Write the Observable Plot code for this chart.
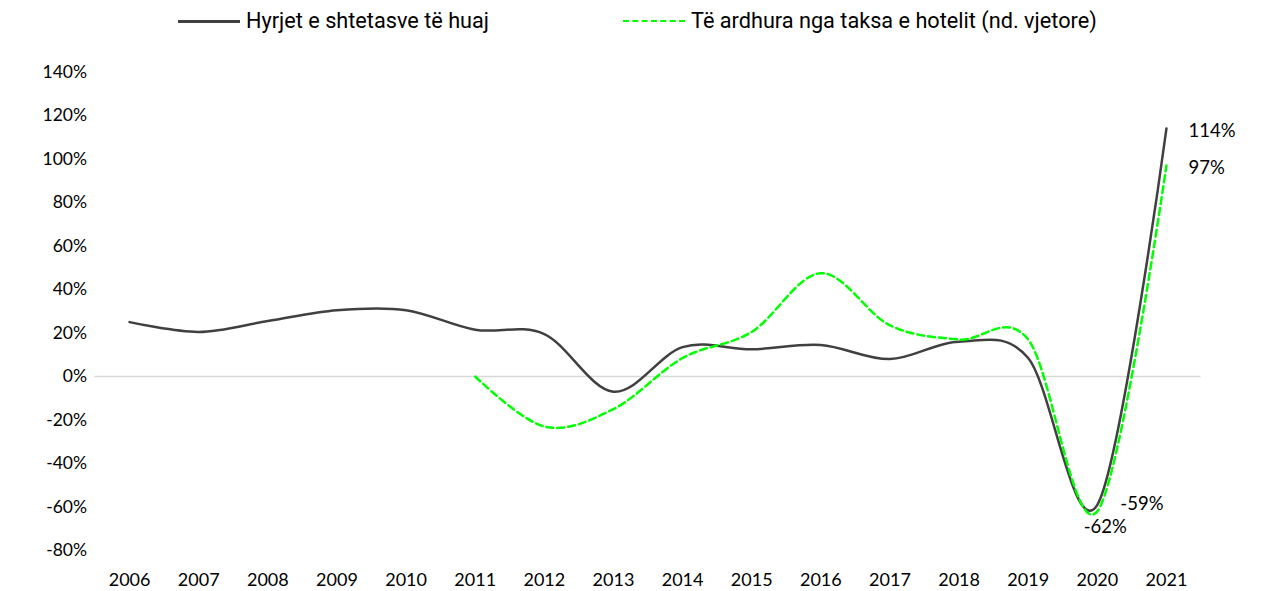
<!DOCTYPE html>
<html><head><meta charset="utf-8">
<script src="https://cdn.jsdelivr.net/npm/d3@7"></script>
<script src="https://cdn.jsdelivr.net/npm/@observablehq/plot@0.6"></script>
<style>
body{margin:0;background:#fff;}
#legend{position:relative;height:45px;width:1274px;font-family:Roboto, sans-serif;font-size:21.7px;color:#000;}
.item{position:absolute;top:8px;display:flex;align-items:center;white-space:nowrap;line-height:26px}
.swatch{display:inline-block;width:62px;height:0;margin-right:6px}
</style></head><body>
<div id="legend"></div>
<div id="chart"></div>
<script>
const years = [2006, 2007, 2008, 2009, 2010, 2011, 2012, 2013, 2014, 2015, 2016, 2017, 2018, 2019, 2020, 2021];
const hyrjet = [25, 20.5, 25.5, 30.5, 30.5, 21.5, 19.5, -7, 13.5, 12.5, 14.5, 8, 16, 8.5, -59, 114];
const taksa = [null, null, null, null, null, 0, -23, -15, 8.5, 20.5, 47.5, 23.5, 17, 17, -62, 97];
const seriesNames = ["Hyrjet e shtetasve të huaj", "Të ardhura nga taksa e hotelit (nd. vjetore)"];
const seriesColors = ["#404040", "#00ff00"];
const yTicks = [-80, -60, -40, -20, 0, 20, 40, 60, 80, 100, 120, 140];

// legend
const legend = document.getElementById("legend");
const legendLeft = [178, 623];
seriesNames.forEach((name, i) => {
  const it = document.createElement("div");
  it.className = "item";
  it.style.left = legendLeft[i] + "px";
  const sw = document.createElement("span");
  sw.className = "swatch";
  sw.style.borderTop = i === 0 ? `3px solid ${seriesColors[i]}` : `2.5px dashed ${seriesColors[i]}`;
  it.appendChild(sw);
  const tx = document.createElement("span");
  tx.textContent = name;
  it.appendChild(tx);
  legend.appendChild(it);
});

const rowsH = years.map((y, i) => ({year: y, v: hyrjet[i]}));
const rowsT = years.map((y, i) => ({year: y, v: taksa[i]}));
const last = years.length - 1;

const chart = Plot.plot({
  width: 1274,
  height: 546,
  marginLeft: 94.5,
  marginRight: 73.5,
  marginTop: 26.5,
  marginBottom: 41,
  x: {domain: [2005.5, 2021.5], label: null},
  y: {domain: [-80, 140], label: null},
  style: {fontFamily: "Lato, sans-serif", fontSize: "17.5px", color: "#000", background: "#fff"},
  marks: [
    Plot.ruleY([0], {stroke: "#d9d9d9", strokeWidth: 1.5}),
    Plot.axisY({ticks: yTicks, tickSize: 0, tickPadding: 8, tickFormat: d => d + "%"}),
    Plot.axisX({ticks: years, tickSize: 0, tickPadding: 23, tickFormat: d => String(d), fontSize: 18}),
    Plot.line(rowsH, {x: "year", y: "v", curve: "cardinal", stroke: seriesColors[0], strokeWidth: 2.5}),
    Plot.line(rowsT, {x: "year", y: "v", curve: "cardinal", stroke: seriesColors[1], strokeWidth: 2.5, strokeDasharray: "7,4"}),
    Plot.text([rowsH[last], rowsT[last]], {x: "year", y: "v", text: d => d.v + "%", textAnchor: "start", dx: 22, dy: 3, fontSize: 18.5}),
    Plot.text([rowsH[last - 1]], {x: "year", y: "v", text: d => d.v + "%", textAnchor: "start", dx: 23, dy: -1, fontSize: 18.5}),
    Plot.text([rowsT[last - 1]], {x: "year", y: "v", text: d => d.v + "%", textAnchor: "middle", dx: 8, dy: 16, fontSize: 18.5})
  ]
});
document.getElementById("chart").appendChild(chart);
</script>
</body></html>
